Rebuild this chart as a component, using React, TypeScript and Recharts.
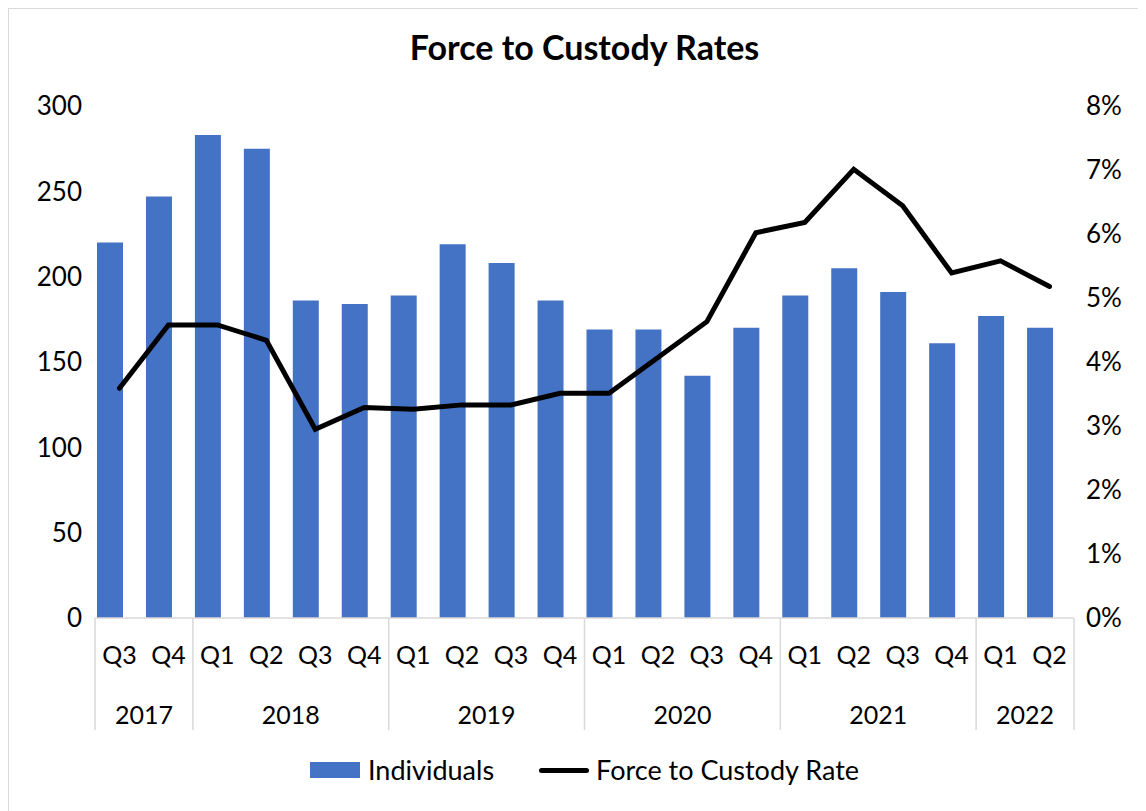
import React from 'react';
import { ComposedChart, Bar, Line, XAxis, YAxis, Legend } from 'recharts';

const quarters = ['Q3', 'Q4', 'Q1', 'Q2', 'Q3', 'Q4', 'Q1', 'Q2', 'Q3', 'Q4', 'Q1', 'Q2', 'Q3', 'Q4', 'Q1', 'Q2', 'Q3', 'Q4', 'Q1', 'Q2'];
const years = ['2017', '2017', '2018', '2018', '2018', '2018', '2019', '2019', '2019', '2019', '2020', '2020', '2020', '2020', '2021', '2021', '2021', '2021', '2022', '2022'];
const individuals = [220, 247, 283, 275, 186, 184, 189, 219, 208, 186, 169, 169, 142, 170, 189, 205, 191, 161, 177, 170];
const custodyRate = [3.59, 4.58, 4.58, 4.34, 2.95, 3.29, 3.26, 3.33, 3.33, 3.51, 3.51, 4.07, 4.63, 6.02, 6.18, 7.01, 6.44, 5.39, 5.58, 5.18];
const leftTicks = [0, 50, 100, 150, 200, 250, 300];
const rightTicks = [0, 1, 2, 3, 4, 5, 6, 7, 8];

const data = quarters.map((q, i) => ({
  quarter: q,
  year: years[i],
  individuals: individuals[i],
  rate: custodyRate[i],
}));

const BLUE = '#4472C4';
const GRID = '#d9d9d9';
const FONT = 'Lato, "Open Sans", sans-serif';
const CHART_W = 1132;
const CHART_H = 800;
const MARGIN = { top: 97, right: 7, left: 6, bottom: 61 };
const LEFT_AXIS_W = 80;
const RIGHT_AXIS_W = 60;
const PLOT_W = CHART_W - MARGIN.left - MARGIN.right - LEFT_AXIS_W - RIGHT_AXIS_W;
const CW = PLOT_W / quarters.length;

function QuarterTick(props: any) {
  const { x, y, index } = props;
  const i = index as number;
  const yr = years[i];
  const isStart = i === 0 || years[i - 1] !== yr;
  const isEnd = i === quarters.length - 1;
  const groupLen = years.filter((v) => v === yr).length;
  return (
    <g>
      <text x={x} y={y + 36} textAnchor="middle" dominantBaseline="central" fill="#000" fontSize={25} fontFamily={FONT}>
        {quarters[i]}
      </text>
      {isStart && (
        <line x1={x - CW / 2} x2={x - CW / 2} y1={y} y2={y + 112} stroke={GRID} strokeWidth={1.5} />
      )}
      {isEnd && (
        <line x1={x + CW / 2} x2={x + CW / 2} y1={y} y2={y + 112} stroke={GRID} strokeWidth={1.5} />
      )}
      {isStart && (
        <text x={x - CW / 2 + (groupLen * CW) / 2} y={y + 96} textAnchor="middle" dominantBaseline="central" fill="#000" fontSize={25} fontFamily={FONT}>
          {yr}
        </text>
      )}
    </g>
  );
}

function LegendContent() {
  return (
    <div style={{ display: 'flex', justifyContent: 'center', alignItems: 'center', fontSize: 27, color: '#000', fontFamily: FONT, lineHeight: '30px' }}>
      <span style={{ display: 'inline-block', width: 50, height: 16, background: BLUE, marginRight: 8 }} />
      <span>Individuals</span>
      <span style={{ display: 'inline-block', width: 50, height: 5, background: '#000', borderRadius: 3, marginLeft: 45, marginRight: 7 }} />
      <span>Force to Custody Rate</span>
    </div>
  );
}

export default function App() {
  return (
    <div style={{ position: 'relative', width: CHART_W, height: 804, border: `1px solid ${GRID}`, background: '#fff', fontFamily: FONT }}>
      <div style={{ position: 'absolute', left: MARGIN.left + LEFT_AXIS_W, width: PLOT_W, top: 19, textAlign: 'center', fontWeight: 700, fontSize: 34, lineHeight: '38px', color: '#000' }}>
        Force to Custody Rates
      </div>
      <ComposedChart width={CHART_W} height={CHART_H} data={data} margin={MARGIN} barGap={-7}>
        <XAxis
          dataKey="quarter"
          interval={0}
          axisLine={{ stroke: GRID, strokeWidth: 1.5 }}
          tickLine={false}
          tickSize={0}
          tickMargin={0}
          height={130}
          tick={<QuarterTick />}
        />
        <YAxis
          yAxisId="left"
          width={LEFT_AXIS_W}
          domain={[0, 300]}
          ticks={leftTicks}
          axisLine={false}
          tickLine={false}
          tickSize={0}
          tickMargin={13}
          tick={{ fill: '#000', fontSize: 26, fontFamily: FONT }}
        />
        <YAxis
          yAxisId="right"
          orientation="right"
          width={RIGHT_AXIS_W}
          domain={[0, 8]}
          ticks={rightTicks}
          axisLine={false}
          tickLine={false}
          tickSize={0}
          tickMargin={12}
          tickFormatter={(v: number) => `${v}%`}
          tick={{ fill: '#000', fontSize: 26, fontFamily: FONT }}
        />
        <Legend
          layout="horizontal"
          verticalAlign="middle"
          align="center"
          wrapperStyle={{ top: 746, left: MARGIN.left + LEFT_AXIS_W, width: PLOT_W }}
          content={<LegendContent />}
        />
        <Bar yAxisId="left" dataKey="individuals" name="Individuals" fill={BLUE} barSize={26} isAnimationActive={false} />
        <Bar yAxisId="left" dataKey="individuals" name="spacer" fill="transparent" barSize={26} legendType="none" isAnimationActive={false} />
        <Line
          yAxisId="right"
          dataKey="rate"
          name="Force to Custody Rate"
          stroke="#000"
          strokeWidth={5}
          strokeLinecap="round"
          dot={false}
          activeDot={false}
          isAnimationActive={false}
        />
      </ComposedChart>
    </div>
  );
}
